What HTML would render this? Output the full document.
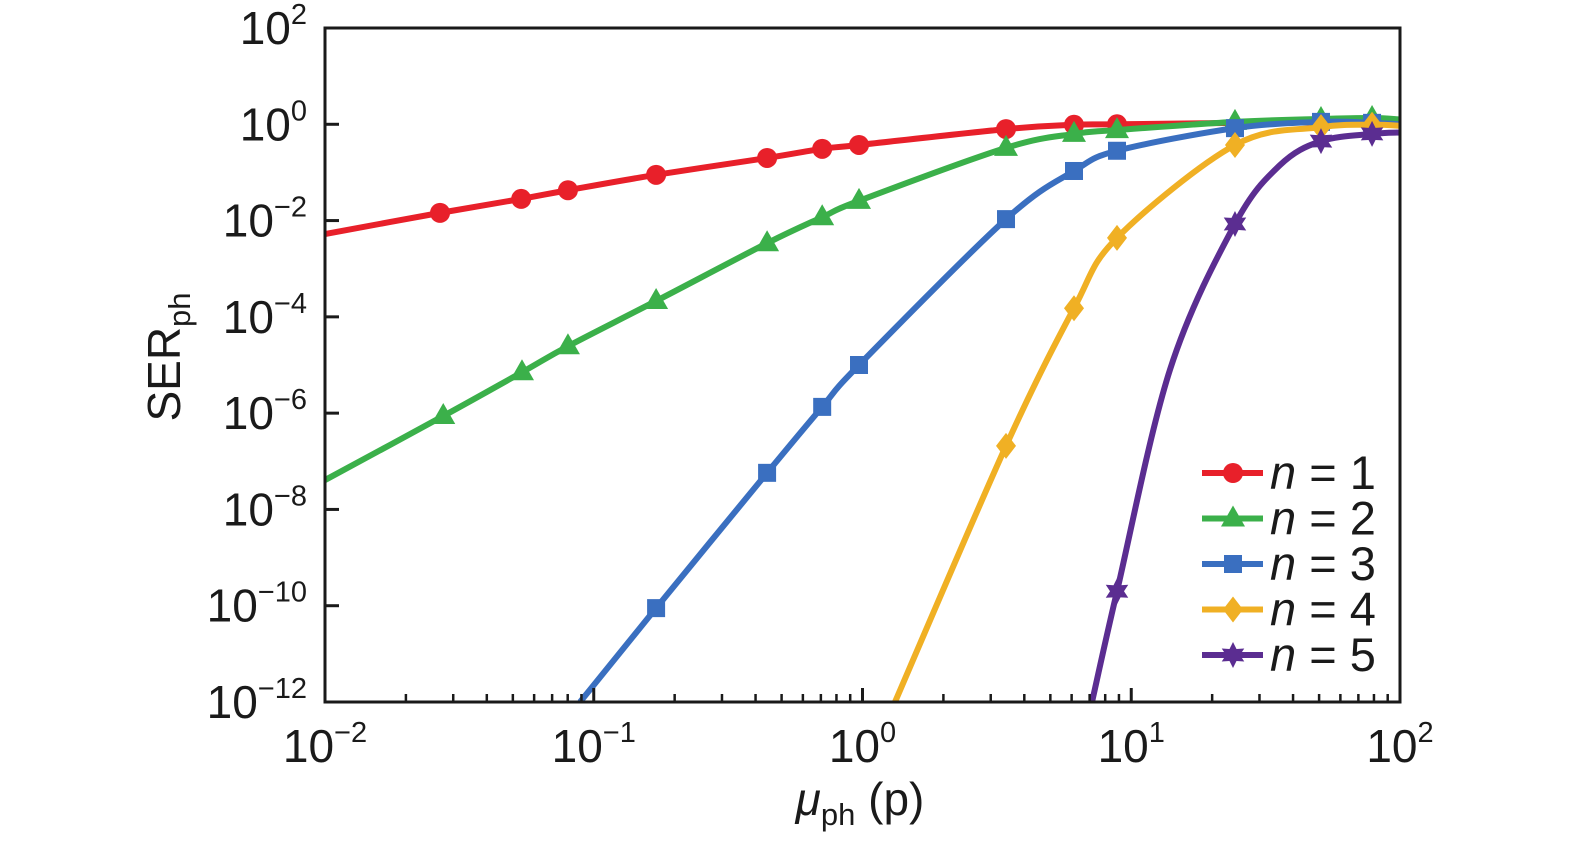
<!DOCTYPE html>
<html><head><meta charset="utf-8"><style>
body{margin:0;background:#fff;}
svg text{font-family:"Liberation Sans",sans-serif;fill:#1a1a1a;}
</style></head><body>
<svg id="chart" width="1575" height="852" xmlns="http://www.w3.org/2000/svg">
<g id="grid"></g><g id="series"></g><g id="axes"></g><g id="legend"></g>
</svg>
<script>
const xDecades=[-2,-1,0,1,2];
const yDecades=[2,0,-2,-4,-6,-8,-10,-12];
const yTickLabels=["2","0","−2","−4","−6","−8","−10","−12"];
const xTickLabels=["−2","−1","0","1","2"];
const seriesNames=["n = 1","n = 2","n = 3","n = 4","n = 5"];
const seriesColors=["#e8202a","#3bb04a","#3a6fc0","#f0b024","#5b2d91"];
const seriesMarkers=["circle","triangle","square","diamond","star"];
// log10(mu) and log10(SER)
const x1=[-2,-1.572,-1.27,-1.096,-0.768,-0.355,-0.15,-0.013,0.534,0.787,0.947,1.386,2];
const y1=[-2.28,-1.84,-1.55,-1.37,-1.05,-0.70,-0.51,-0.43,-0.10,-0.01,0.0,0.03,0.05];
const m1=[1,2,3,4,5,6,7,8,9,10];
const x2=[-2,-1.56,-1.267,-1.096,-0.768,-0.355,-0.15,-0.013,0.534,0.787,0.947,1.386,1.706,1.896,2];
const y2=[-7.39,-6.06,-5.15,-4.61,-3.67,-2.47,-1.93,-1.59,-0.49,-0.20,-0.12,0.05,0.11,0.13,0.10];
const m2=[1,2,3,4,5,6,7,8,9,10,11,12,13];
const x3=[-1.051,-0.768,-0.355,-0.15,-0.013,0.534,0.787,0.947,1.386,1.706,1.896,2];
const y3=[-12,-10.05,-7.24,-5.87,-5.0,-1.97,-0.97,-0.55,-0.08,0.05,0.03,0.0];
const m3=[1,2,3,4,5,6,7,8,9,10];
const x4=[0.121,0.534,0.787,0.947,1.386,1.706,1.896,2];
const y4=[-12,-6.68,-3.82,-2.36,-0.43,-0.06,-0.01,-0.03];
const m4=[1,2,3,4,5,6];
const x5=[0.854,0.947,1.144,1.386,1.553,1.706,1.896,2];
const y5=[-12,-9.70,-5.10,-2.07,-0.85,-0.35,-0.20,-0.17];
const m5=[1,3,5,6];
const allX=[x1,x2,x3,x4,x5],allY=[y1,y2,y3,y4,y5],allM=[m1,m2,m3,m4,m5];

const L=325,R=1400,T=28,B=702;
const sx=v=>L+(v+2)/4*(R-L);
const sy=v=>T+(2-v)/14*(B-T);
const NS="http://www.w3.org/2000/svg";
function mk(tag,attrs,parent){const e=document.createElementNS(NS,tag);for(const k in attrs)e.setAttribute(k,attrs[k]);parent.appendChild(e);return e;}
const axes=document.getElementById('axes'),ser=document.getElementById('series'),leg=document.getElementById('legend');

function pathFor(xs,ys){
  const p=xs.map((x,i)=>[sx(x),sy(ys[i])]);
  let d=`M${p[0][0]},${p[0][1]}`;
  for(let i=0;i<p.length-1;i++){
    const p0=p[i-1]||p[i],p1=p[i],p2=p[i+1],p3=p[i+2]||p2;
    const c1=[p1[0]+(p2[0]-p0[0])/6,p1[1]+(p2[1]-p0[1])/6];
    const c2=[p2[0]-(p3[0]-p1[0])/6,p2[1]-(p3[1]-p1[1])/6];
    d+=` C${c1[0]},${c1[1]} ${c2[0]},${c2[1]} ${p2[0]},${p2[1]}`;
  }
  return d;
}
function marker(type,cx,cy,color,parent){
  let e;
  if(type==="circle")e=mk('circle',{cx,cy,r:10,fill:color},parent);
  else if(type==="square")e=mk('rect',{x:cx-9,y:cy-9,width:18,height:18,fill:color},parent);
  else if(type==="triangle")e=mk('polygon',{points:`${cx},${cy-13} ${cx+12},${cy+8} ${cx-12},${cy+8}`,fill:color},parent);
  else if(type==="diamond")e=mk('polygon',{points:`${cx},${cy-13} ${cx+10},${cy} ${cx},${cy+13} ${cx-10},${cy}`,fill:color},parent);
  else{let pts=[];for(let k=0;k<12;k++){const a=k*Math.PI/6-Math.PI/2,r=k%2?7:13;pts.push(`${cx+r*Math.cos(a)},${cy+r*Math.sin(a)}`);}e=mk('polygon',{points:pts.join(' '),fill:color},parent);}
  return e;
}
const clip=mk('clipPath',{id:'pc'},document.getElementById('chart'));
mk('rect',{x:L,y:T,width:R-L,height:B-T},clip);
allX.forEach((xs,s)=>{
  const g=mk('g',{'clip-path':'url(#pc)'},ser);
  
  
  const p=mk('path',{d:pathFor(xs,allY[s]),fill:'none',stroke:seriesColors[s],'stroke-width':6},g);
  
  
  allM[s].forEach(i=>{
    const m=marker(seriesMarkers[s],sx(xs[i]),sy(allY[s][i]),seriesColors[s],g);
    
    
  });
});
const fr=mk('rect',{x:L,y:T,width:R-L,height:B-T,fill:'none',stroke:'#1a1a1a','stroke-width':3},axes);


xDecades.forEach((d,i)=>{
  const x=sx(d);
  mk('line',{x1:x,x2:x,y1:B,y2:B-14,stroke:'#1a1a1a','stroke-width':3},axes);
  if(d<2)for(let k=2;k<10;k++){const xm=sx(d+Math.log10(k));mk('line',{x1:xm,x2:xm,y1:B,y2:B-8,stroke:'#1a1a1a','stroke-width':2.5},axes);}
  const t=mk('text',{x:x,y:762,'font-size':46,'text-anchor':'middle'},axes);
  
  
  t.innerHTML=`10<tspan dy="-20" font-size="29">${xTickLabels[i]}</tspan>`;
});
yDecades.forEach((d,i)=>{
  const y=sy(d);
  mk('line',{x1:L,x2:L+14,y1:y,y2:y,stroke:'#1a1a1a','stroke-width':3},axes);
  const t=mk('text',{x:307,y:y+16,'font-size':46,'text-anchor':'end'},axes);
  
  
  t.innerHTML=`10<tspan dy="-20" font-size="29">${yTickLabels[i]}</tspan>`;
});
const yl=mk('text',{transform:'translate(180,357) rotate(-90)','font-size':46,'text-anchor':'middle'},axes);


yl.innerHTML='SER<tspan dy="10" font-size="31">ph</tspan>';
const xl=mk('text',{x:860,y:815,'font-size':46,'text-anchor':'middle'},axes);


xl.innerHTML='<tspan font-style="italic">μ</tspan><tspan dy="10" font-size="31">ph</tspan><tspan dy="-10"> (p)</tspan>';
seriesNames.forEach((n,s)=>{
  const y=473+s*45.5;
  const g=mk('g',{},leg);
  
  
  mk('line',{x1:1202,x2:1263,y1:y,y2:y,stroke:seriesColors[s],'stroke-width':6},g);
  marker(seriesMarkers[s],1233,y,seriesColors[s],g);
  const t=mk('text',{x:1270,y:y+16,'font-size':47},g);
  t.innerHTML=`<tspan font-style="italic">n</tspan> = ${s+1}`;
});
</script>
</body></html>
